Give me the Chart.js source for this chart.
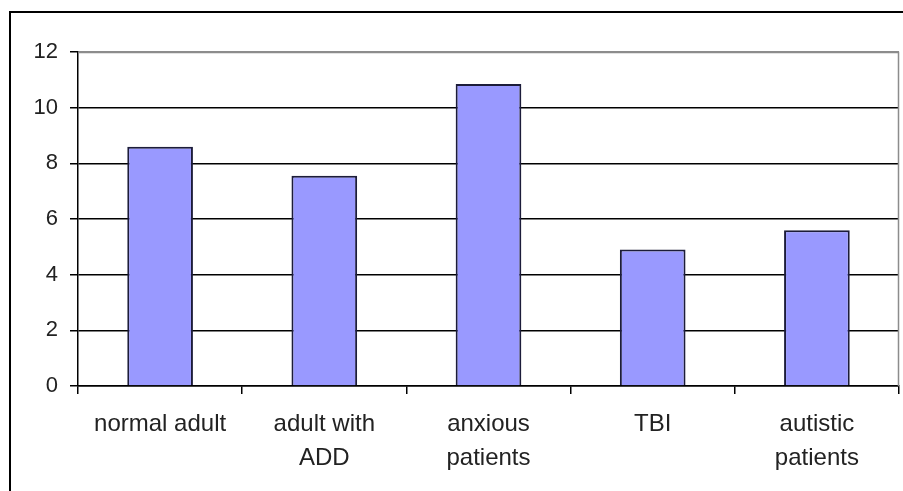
<!DOCTYPE html>
<html>
<head>
<meta charset="utf-8">
<script src="https://cdn.jsdelivr.net/npm/chart.js@4.4.0/dist/chart.umd.min.js"></script>
<style>
  body { margin: 0; background: #fff; }
  #wrap { width: 903px; height: 491px; }
</style>
</head>
<body>
<div id="wrap"><canvas id="myChart" width="903" height="491"></canvas></div>
<script>
// data
const groups = ['normal adult', ['adult with', 'ADD'], ['anxious', 'patients'], 'TBI', ['autistic', 'patients']];
const scores = [8.6, 7.55, 10.85, 4.9, 5.6];
const yTicks = [0, 2, 4, 6, 8, 10, 12];

// white background, outer frame and the grey plot border
const frame = {
  id: 'frame',
  beforeDraw(chart) {
    const ctx = chart.ctx;
    ctx.save();
    ctx.fillStyle = '#fff';
    ctx.fillRect(0, 0, chart.width, chart.height);
    ctx.strokeStyle = '#000';
    ctx.lineWidth = 2;
    ctx.beginPath();
    ctx.moveTo(10, chart.height);
    ctx.lineTo(10, 12);
    ctx.lineTo(chart.width, 12);
    ctx.stroke();
    ctx.restore();
  },
  beforeDatasetsDraw(chart) {
    const a = chart.chartArea;
    const ctx = chart.ctx;
    ctx.save();
    ctx.strokeStyle = '#8c8c8c';
    ctx.lineWidth = 1.5;
    ctx.beginPath();
    ctx.moveTo(a.left, a.top + 0.5);
    ctx.lineTo(a.right - 0.5, a.top + 0.5);
    ctx.lineTo(a.right - 0.5, a.bottom);
    ctx.stroke();
    ctx.restore();
  }
};

const tickFont = { family: '"Liberation Sans", Arial, sans-serif', size: 22 };

const myChart = new Chart(document.getElementById('myChart'), {
  type: 'bar',
  data: {
    labels: groups,
    datasets: [{
      data: scores,
      backgroundColor: '#9999ff',
      borderColor: '#1c1c3a',
      borderWidth: 2,
      categoryPercentage: 1,
      barPercentage: 0.4
    }]
  },
  options: {
    responsive: false,
    animation: false,
    layout: { padding: { top: 52, right: 4, left: 10, bottom: 0 } },
    plugins: { legend: { display: false }, tooltip: { enabled: false } },
    scales: {
      x: {
        afterFit(scale) { scale.height = 105; },
        grid: { offset: true, drawOnChartArea: false, drawTicks: true, tickLength: 8, color: '#000', lineWidth: 1.5 },
        border: { color: '#000', width: 1.5 },
        ticks: { color: '#222', font: { ...tickFont, size: 24, lineHeight: 1.4 }, padding: 14, maxRotation: 0, autoSkip: false }
      },
      y: {
        min: 0,
        max: 12,
        afterFit(scale) { scale.width = 68; },
        afterBuildTicks(scale) { scale.ticks = yTicks.map(v => ({ value: v })); },
        grid: {
          color: ctx => ctx.tick && ctx.tick.value === 12 ? '#8c8c8c' : '#000',
          lineWidth: 1.5,
          tickLength: 8,
          tickColor: '#000'
        },
        border: { color: '#000', width: 1.5 },
        ticks: { color: '#222', font: tickFont, padding: 12 }
      }
    }
  },
  plugins: [frame]
});
</script>
</body>
</html>
